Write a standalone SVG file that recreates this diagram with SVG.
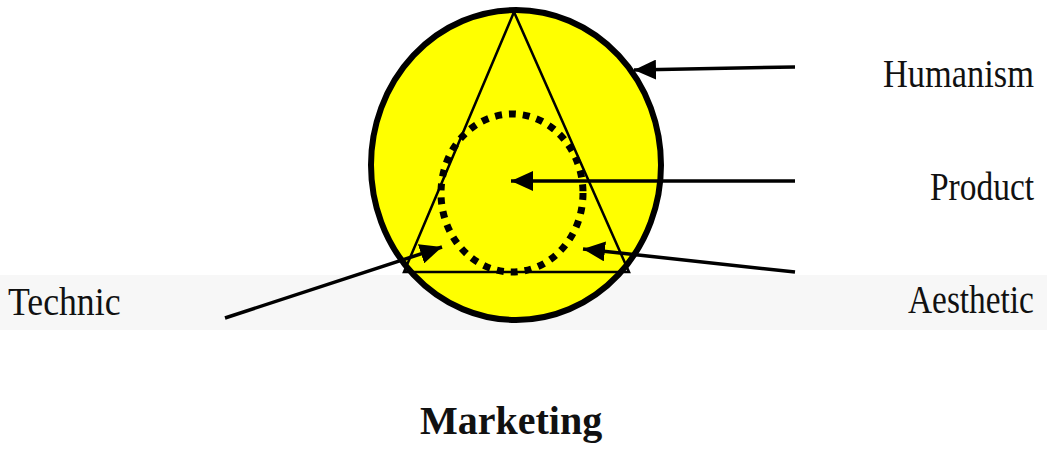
<svg xmlns="http://www.w3.org/2000/svg" width="1047" height="451" viewBox="0 0 1047 451">
<defs>
<style>
.lbl{font-family:"Liberation Serif","Times New Roman",serif;font-size:40px;fill:#111}
.conn{stroke:#000;stroke-width:3.5;fill:none}
</style>
<marker id="ah" markerUnits="userSpaceOnUse" markerWidth="24" markerHeight="20" refX="22" refY="10" orient="auto">
<path d="M0,0 L22,10 L0,20 Z" fill="#000"/>
</marker>
</defs>
<rect width="1047" height="451" fill="#fff"/>
<rect x="0" y="275" width="1047" height="55" fill="#f7f7f7"/>
<g id="outer">
<ellipse cx="516" cy="165" rx="145" ry="155" fill="#ffff00" stroke="#000" stroke-width="6"/>
</g>
<g id="triangle">
<polygon points="514,12 404,272 629,272" fill="none" stroke="#000" stroke-width="2.5"/>
</g>
<g id="product-circle">
<ellipse cx="512" cy="193" rx="71" ry="79" fill="none" stroke="#000" stroke-width="7" stroke-dasharray="7 7"/>
</g>
<g id="connectors">
<line class="conn" x1="795" y1="67" x2="634" y2="70" marker-end="url(#ah)"/>
<line class="conn" x1="795" y1="181" x2="511" y2="181" marker-end="url(#ah)"/>
<line class="conn" x1="795" y1="272" x2="583" y2="249" marker-end="url(#ah)"/>
<line class="conn" x1="225" y1="318" x2="442" y2="247" marker-end="url(#ah)"/>
</g>
<g id="humanism" transform="translate(883,87) scale(0.86,1)"><text class="lbl" x="0" y="0">Humanism</text></g>
<g id="product" transform="translate(930,200) scale(0.836,1)"><text class="lbl" x="0" y="0">Product</text></g>
<g id="aesthetic" transform="translate(908,313) scale(0.834,1)"><text class="lbl" x="0" y="0">Aesthetic</text></g>
<g id="technic" transform="translate(8,315) scale(0.893,1)"><text class="lbl" x="0" y="0">Technic</text></g>
<g id="marketing" transform="translate(420,434) scale(1.0,1)"><text class="lbl" x="0" y="0" font-weight="bold" font-size="44">Marketing</text></g>
</svg>
